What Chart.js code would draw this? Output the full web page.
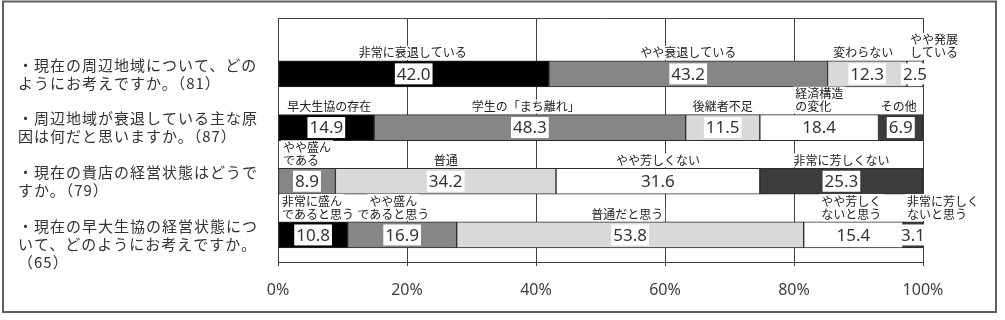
<!DOCTYPE html>
<html>
<head>
<meta charset="utf-8">
<script src="https://cdn.jsdelivr.net/npm/chart.js@4.4.1/dist/chart.umd.min.js"></script>
<style>
html,body{margin:0;padding:0;background:#fff;overflow:hidden}
canvas{display:block}
</style>
</head>
<body>
<canvas id="c" width="1005" height="320"></canvas>
<script>
// ---------------- data ----------------
const questions = [
  ["・現在の周辺地域について、どの", "ようにお考えですか。（81）"],
  ["・周辺地域が衰退している主な原", "因は何だと思いますか。（87）"],
  ["・現在の貴店の経営状態はどうで", "すか。（79）"],
  ["・現在の早大生協の経営状態につ", "いて、どのようにお考えですか。", "（65）"]
];
const q1Labels = ["非常に衰退している", "やや衰退している", "変わらない", "やや発展\nしている"];
const q1Values = [42.0, 43.2, 12.3, 2.5];
const q2Labels = ["早大生協の存在", "学生の「まち離れ」", "後継者不足", "経済構造\nの変化", "その他"];
const q2Values = [14.9, 48.3, 11.5, 18.4, 6.9];
const q3Labels = ["やや盛ん\nである", "普通", "やや芳しくない", "非常に芳しくない"];
const q3Values = [8.9, 34.2, 31.6, 25.3];
const q4Labels = ["非常に盛ん\nであると思う", "やや盛ん\nであると思う", "普通だと思う", "やや芳しく\nないと思う", "非常に芳しく\nないと思う"];
const q4Values = [10.8, 16.9, 53.8, 15.4, 3.1];
const xTicks = [0, 20, 40, 60, 80, 100];

// ---------------- styles ----------------
const BLACK = '#000000', GRAY = '#868686', LIGHT = '#d9d9d9', WHITE = '#ffffff', DARK = '#3c3c3c';
const q1Colors = [BLACK, GRAY, LIGHT, WHITE];
const q2Colors = [BLACK, GRAY, LIGHT, WHITE, DARK];
const q3Colors = [GRAY, LIGHT, WHITE, DARK];
const q4Colors = [BLACK, GRAY, LIGHT, WHITE, DARK];
// label nudges (px) and multi-line alignment
const q1LabelDx = [-1, 0, -4, 19];
const q2LabelDx = [3, -4, 0, 0, -2];
const q3LabelDx = [0, 0, 0, 0];
const q4LabelDx = [5, -9, -3, -2, 30];
const q1Align = ['center', 'center', 'center', 'left'];
const q2Align = ['center', 'center', 'center', 'left', 'center'];
const q3Align = ['left', 'center', 'center', 'center'];
const q4Align = ['left', 'center', 'center', 'center', 'left'];

const rows = [
  {labels: q1Labels, values: q1Values, colors: q1Colors, dx: q1LabelDx, align: q1Align},
  {labels: q2Labels, values: q2Values, colors: q2Colors, dx: q2LabelDx, align: q2Align},
  {labels: q3Labels, values: q3Values, colors: q3Colors, dx: q3LabelDx, align: q3Align},
  {labels: q4Labels, values: q4Values, colors: q4Colors, dx: q4LabelDx, align: q4Align}
];
const maxSeg = Math.max(...rows.map(r => r.values.length));

const datasets = [];
for (let j = 0; j < maxSeg; j++) {
  const data = [];
  rows.forEach((r, i) => { if (r.values[j] != null) data.push({x: r.values[j], y: i, seg: j}); });
  datasets.push({
    data,
    backgroundColor: ctx => (ctx.raw ? rows[ctx.raw.y].colors[j] : WHITE),
    borderColor: '#2a2a2a',
    borderWidth: 1,
    borderSkipped: false,
    barThickness: 26
  });
}

const GRID = '#404040';
const JP = "'Noto Sans CJK JP', 'Noto Sans', sans-serif";

const labelPlugin = {
  id: 'customLabels',
  beforeDraw(chart) {
    const {ctx} = chart;
    ctx.save();
    ctx.fillStyle = '#fff';
    ctx.fillRect(0, 0, chart.width, chart.height);
    ctx.strokeStyle = '#5f5f5f';
    ctx.lineWidth = 2;
    ctx.strokeRect(3, 1.5, 993, 310.5);
    ctx.restore();
  },
  beforeDatasetsDraw(chart) {
    const {ctx, chartArea: a} = chart;
    ctx.save();
    ctx.strokeStyle = GRID;
    ctx.lineWidth = 1;
    ctx.beginPath();
    ctx.moveTo(a.left, Math.round(a.top) + 0.5);
    ctx.lineTo(a.right + 0.5, Math.round(a.top) + 0.5);
    ctx.stroke();
    ctx.restore();
  },
  afterDatasetsDraw(chart) {
    const {ctx} = chart;
    ctx.save();
    chart.data.datasets.forEach((ds, j) => {
      const meta = chart.getDatasetMeta(j);
      meta.data.forEach((el, k) => {
        const raw = ds.data[k];
        const row = rows[raw.y];
        const p = el.getProps(['x', 'y', 'base', 'height'], true);
        const cx = (p.x + p.base) / 2;
        const top = p.y - p.height / 2;
        // category label above segment
        const lines = row.labels[j].split('\n');
        ctx.font = '12px ' + JP;
        ctx.textBaseline = 'middle';
        const widths = lines.map(s => ctx.measureText(s).width);
        const wMax = Math.max(...widths);
        const lx = cx + row.dx[j];
        const lh = 13;
        lines.forEach((s, li) => {
          const ly = top - 8 - (lines.length - 1 - li) * lh;
          let x0;
          if (row.align[j] === 'left') x0 = lx - wMax / 2;
          else x0 = lx - widths[li] / 2;
          ctx.fillStyle = '#fff';
          ctx.fillRect(x0 - 2, ly - 7, widths[li] + 4, 14);
          ctx.fillStyle = '#222';
          ctx.textAlign = 'left';
          ctx.fillText(s, x0, ly);
        });
        // value label in a white box
        const txt = raw.x.toFixed(1);
        ctx.font = "17px 'Noto Sans', sans-serif";
        const tw = ctx.measureText(txt).width;
        ctx.fillStyle = '#fff';
        ctx.fillRect(cx - tw / 2 - 2, p.y - 10.5, tw + 4, 21);
        ctx.fillStyle = '#333';
        ctx.textAlign = 'center';
        ctx.fillText(txt, cx, p.y + 1);
      });
    });
    ctx.restore();
  },
  afterDraw(chart) {
    const {ctx} = chart;
    const ys = chart.scales.y;
    ctx.save();
    ctx.font = '15px ' + JP;
    if ('letterSpacing' in ctx) ctx.letterSpacing = '1px';
    ctx.fillStyle = '#333';
    ctx.textAlign = 'left';
    ctx.textBaseline = 'middle';
    questions.forEach((q, i) => {
      const yc = ys.getPixelForValue(i);
      q.forEach((s, li) => ctx.fillText(s, 18, yc - 9 + li * 18));
    });
    ctx.restore();
  }
};

new Chart(document.getElementById('c'), {
  type: 'bar',
  data: {datasets},
  plugins: [labelPlugin],
  options: {
    indexAxis: 'y',
    responsive: false,
    animation: false,
    events: [],
    layout: {padding: {left: 278, right: 82, top: 18, bottom: 18}},
    plugins: {legend: {display: false}, tooltip: {enabled: false}},
    scales: {
      x: {
        type: 'linear',
        stacked: true,
        min: 0,
        max: 100,
        afterBuildTicks: s => { s.ticks = xTicks.map(v => ({value: v})); },
        afterFit: s => { s.height = 40; },
        grid: {color: GRID, lineWidth: 1, drawTicks: true, tickLength: 4, tickColor: GRID},
        border: {display: true, color: GRID, width: 1},
        ticks: {
          callback: v => v + '%',
          color: '#404040',
          padding: 15,
          maxRotation: 0,
          autoSkip: false,
          font: {family: "'Noto Sans', sans-serif", size: 16}
        }
      },
      y: {
        type: 'linear',
        stacked: true,
        reverse: true,
        min: -0.813,
        max: 3.2765,
        display: false
      }
    }
  }
});
</script>
</body>
</html>
